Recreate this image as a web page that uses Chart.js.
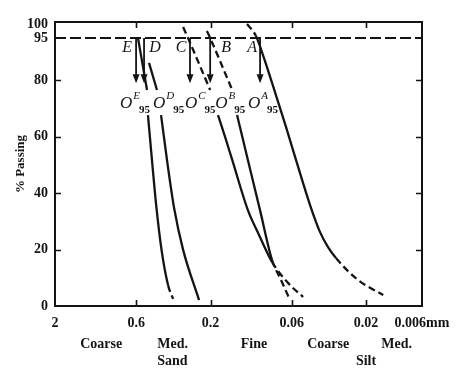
<!DOCTYPE html>
<html>
<head>
<meta charset="utf-8">
<script src="https://cdn.jsdelivr.net/npm/chart.js@4/dist/chart.umd.min.js"></script>
<style>
  html, body { margin: 0; padding: 0; background: #fff; }
</style>
</head>
<body>
<canvas id="gradChart" width="470" height="375"></canvas>
<script>
// grain size axis (mm), drawn right-to-left on a log scale
const sizeTicks = [2, 0.6, 0.2, 0.06, 0.02];
const sizeLabels = ['2', '0.6', '0.2', '0.06', '0.02', '0.006mm'];
const xMin = 0.00873;   // right edge of the frame, labelled 0.006mm in the figure
const passTicks = [0, 20, 40, 60, 80, 95, 100];
const curveNames = ['A', 'B', 'C', 'D', 'E'];
// O95 size of each curve (where the arrows point)
const o95 = [0.096, 0.201, 0.271, 0.535, 0.602];

// curves: size (mm) and % passing; null = break where the O95 labels sit
const sizeA = [0.1165, 0.102, 0.0906, 0.0804, 0.0725, 0.0654, 0.0564, 0.0458, 0.0395, 0.0351, 0.0312, 0.0225, 0.0155];
const passA = [100, 95.7, 87.9, 79.1, 71.3, 63.5, 51.8, 35.8, 26.2, 20.9, 17.0, 9.2, 3.9];
const sizeB = [0.211, 0.201, 0.145, 0.14, 0.135, 0.115, 0.0961, 0.0804, 0.0704, 0.0616];
const passB = [97.5, 95.0, 76.6, null, 67.7, 51.8, 34.0, 16.3, 9.2, 2.1];
const sizeC = [0.300, 0.279, 0.201, 0.19, 0.179, 0.161, 0.145, 0.115, 0.0975, 0.0804, 0.0635, 0.0508];
const passC = [98.9, 95.0, 76.6, null, 67.7, 59.9, 51.8, 34.0, 25.2, 15.6, 8.2, 3.2];
const sizeD = [0.497, 0.442, 0.43, 0.416, 0.381, 0.343, 0.300, 0.237];
const passD = [86.2, 76.6, null, 67.7, 51.8, 34.8, 19.9, 2.1];
const sizeE = [0.585, 0.512, 0.508, 0.505, 0.476, 0.448, 0.413, 0.375, 0.348];
const passE = [95.0, 76.6, null, 67.7, 51.8, 36.2, 19.9, 7.4, 2.5];

const INK = '#141414';
const SERIF = '"Liberation Serif", "DejaVu Serif", serif';

function pts(sizes, pass) {
    return sizes.map((s, i) => ({ x: s, y: pass[i] }));
}

function curve(sizes, pass, dashAbove, dashBelow) {
    return {
        data: pts(sizes, pass),
        borderColor: INK,
        borderWidth: 2.3,
        pointRadius: 0,
        cubicInterpolationMode: 'monotone',
        spanGaps: false,
        segment: {
            borderDash: ctx => {
                const a = ctx.p0.parsed.y, b = ctx.p1.parsed.y;
                if (Math.min(a, b) >= dashAbove) return [7, 4];
                if (Math.max(a, b) <= dashBelow) return [7, 4];
                return undefined;
            }
        }
    };
}

const annotations = {
    id: 'annotations',
    afterDatasetsDraw(chart) {
        const c = chart.ctx, area = chart.chartArea;
        const xs = chart.scales.x, ys = chart.scales.y;
        c.save();
        c.strokeStyle = INK;
        c.fillStyle = INK;

        // frame
        c.lineWidth = 2;
        c.strokeRect(area.left, area.top, area.right - area.left, area.bottom - area.top);

        // inner tick marks
        c.lineWidth = 1.6;
        [20, 40, 60, 80].forEach(v => {
            const y = Math.round(ys.getPixelForValue(v)) + 0.5;
            c.beginPath();
            c.moveTo(area.left, y); c.lineTo(area.left + 6, y);
            c.moveTo(area.right, y); c.lineTo(area.right - 6, y);
            c.stroke();
        });
        sizeTicks.slice(1).forEach(v => {
            const x = Math.round(xs.getPixelForValue(v)) + 0.5;
            c.beginPath();
            c.moveTo(x, area.top); c.lineTo(x, area.top + 6);
            c.moveTo(x, area.bottom); c.lineTo(x, area.bottom - 6);
            c.stroke();
        });

        // arrows, letters and O95 labels
        const yTop = ys.getPixelForValue(95);
        const yTip = ys.getPixelForValue(79);
        const letterDx = [-8, 16, -9, 11, -9];
        const labelDx = [-12, 5, -5, 9, -16];
        curveNames.forEach((name, i) => {
            const x = xs.getPixelForValue(o95[i]);
            c.lineWidth = 1.8;
            c.beginPath();
            c.moveTo(x, yTop);
            c.lineTo(x, yTip - 8);
            c.stroke();
            c.beginPath();
            c.moveTo(x - 3.5, yTip - 9);
            c.lineTo(x + 3.5, yTip - 9);
            c.lineTo(x, yTip);
            c.closePath();
            c.fill();

            c.textBaseline = 'middle';
            c.textAlign = 'center';
            c.font = 'italic 16px ' + SERIF;
            c.fillText(name, x + letterDx[i], yTop + 10);

            c.textBaseline = 'alphabetic';
            c.textAlign = 'left';
            let lx = x + labelDx[i];
            const base = yTip + 25;
            c.font = 'italic 17px ' + SERIF;
            c.fillText('O', lx, base);
            lx += c.measureText('O').width + 1;
            c.font = 'italic 11px ' + SERIF;
            c.fillText(name, lx, base - 9);
            lx += c.measureText(name).width - 1;
            c.font = 'bold 11px ' + SERIF;
            c.fillText('95', lx, base + 5);
        });

        // size class names under the axis
        c.font = 'bold 14px ' + SERIF;
        c.textBaseline = 'middle';
        const row1 = area.bottom + 38, row2 = area.bottom + 55;
        const classes = [
            ['Coarse', 1.01, row1, 'center'],
            ['Med.', 0.44, row1, 'left'],
            ['Sand', 0.44, row2, 'left'],
            ['Fine', 0.105, row1, 'center'],
            ['Coarse', 0.035, row1, 'center'],
            ['Med.', 0.0127, row1, 'center'],
            ['Silt', 0.02, row2, 'center']
        ];
        classes.forEach(([t, v, y, al]) => {
            c.textAlign = al;
            c.fillText(t, xs.getPixelForValue(v), y);
        });

        // y axis title
        c.save();
        c.translate(21, (area.top + area.bottom) / 2);
        c.rotate(-Math.PI / 2);
        c.textAlign = 'center';
        c.textBaseline = 'middle';
        c.font = 'bold 13px ' + SERIF;
        c.fillText('% Passing', 0, 0);
        c.restore();

        c.restore();
    }
};

new Chart(document.getElementById('gradChart'), {
    type: 'line',
    data: {
        datasets: [
            {
                data: [{ x: 2, y: 95 }, { x: xMin, y: 95 }],
                borderColor: INK,
                borderWidth: 2,
                borderDash: [11, 4],
                pointRadius: 0
            },
            curve(sizeA, passA, 95.5, 17.0),
            curve(sizeB, passB, 76, 16.3),
            curve(sizeC, passC, 76, 15.6),
            curve(sizeD, passD, 999, -1),
            curve(sizeE, passE, 999, 7.4)
        ]
    },
    options: {
        responsive: false,
        animation: false,
        devicePixelRatio: 1,
        layout: { padding: { top: 22, right: 48, bottom: 0, left: 0 } },
        plugins: { legend: { display: false }, tooltip: { enabled: false } },
        scales: {
            x: {
                type: 'logarithmic',
                reverse: true,
                min: xMin,
                max: 2,
                grid: { display: false, drawTicks: false },
                border: { display: false },
                afterFit: s => { s.height = 69; },
                afterBuildTicks: s => {
                    s.ticks = sizeTicks.concat([xMin]).map(v => ({ value: v }));
                },
                ticks: {
                    autoSkip: false,
                    maxRotation: 0,
                    padding: 9,
                    color: INK,
                    font: { family: SERIF, size: 14, weight: 'bold' },
                    callback: (v, i) => sizeLabels[i]
                }
            },
            y: {
                type: 'linear',
                min: 0,
                max: 100.7,
                grid: { display: false, drawTicks: false },
                border: { display: false },
                afterFit: s => { s.width = 55; },
                afterBuildTicks: s => {
                    s.ticks = passTicks.map(v => ({ value: v }));
                },
                ticks: {
                    autoSkip: false,
                    padding: 7,
                    color: INK,
                    font: { family: SERIF, size: 14, weight: 'bold' }
                }
            }
        }
    },
    plugins: [annotations]
});
</script>
</body>
</html>
